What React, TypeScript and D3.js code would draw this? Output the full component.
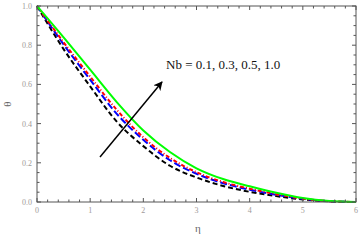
import { scaleLinear, line, curveMonotoneX, range } from 'd3'

const width = 361
const height = 241
const margin = { left: 37, right: 5, top: 6, bottom: 39 }

// eta grid and theta profiles for each Nb
const eta = [0, 0.5, 1, 1.5, 2, 2.5, 3, 3.5, 4, 4.5, 5, 5.5, 6]
const thetaNb01 = [1, 0.78, 0.59, 0.41, 0.285, 0.185, 0.125, 0.082, 0.052, 0.03, 0.013, 0.003, 0]
const thetaNb03 = [1, 0.804, 0.624, 0.45, 0.317, 0.213, 0.144, 0.096, 0.063, 0.037, 0.016, 0.004, 0]
const thetaNb05 = [1, 0.815, 0.64, 0.47, 0.33, 0.225, 0.152, 0.102, 0.068, 0.04, 0.017, 0.004, 0]
const thetaNb10 = [1, 0.84, 0.675, 0.51, 0.365, 0.255, 0.172, 0.117, 0.08, 0.047, 0.02, 0.005, 0]

const xTicks = [0, 1, 2, 3, 4, 5, 6]
const yTicks = [0, 0.2, 0.4, 0.6, 0.8, 1.0]

const series = [
  { values: thetaNb01, color: '#000000', dash: '5,3' },
  { values: thetaNb03, color: '#0000ff', dash: '7,3' },
  { values: thetaNb05, color: '#ff0000', dash: '4,2,1,2' },
  { values: thetaNb10, color: '#00ff00', dash: null },
]

const x = scaleLinear().domain([0, 6]).range([margin.left, width - margin.right])
const y = scaleLinear().domain([0, 1]).range([height - margin.bottom, margin.top])

const curve = line<number>()
  .x((d, i) => x(eta[i]))
  .y(d => y(d))
  .curve(curveMonotoneX)

const frame = '#555'
const labelColor = '#a09a98'

const App = () => {
  const x0 = x.range()[0], x1 = x.range()[1]
  const y0 = y.range()[0], y1 = y.range()[1]
  const xMinor = range(0, 6.001, 0.2)
  const yMinor = range(0, 1.001, 0.05)
  return (
    <svg width={width} height={height} style={{ position: 'absolute', left: 0, top: 0, background: '#fff' }}>
      <defs>
        <marker id="head" viewBox="0 0 10 10" refX="9" refY="5" markerWidth="6" markerHeight="6" orient="auto">
          <path d="M0,0 L10,5 L0,10 L3,5 z" fill="#000" />
        </marker>
      </defs>
      {series.map((s, i) => (
        <path key={i} d={curve(s.values) || ''} fill="none" stroke={s.color}
          strokeWidth={2} strokeDasharray={s.dash || undefined} />
      ))}
      {/* frame */}
      <rect x={x0} y={y1} width={x1 - x0} height={y0 - y1} fill="none" stroke={frame} strokeWidth={1} />
      {xMinor.map((t, i) => {
        const major = Math.abs(t - Math.round(t)) < 1e-6
        const len = major ? 4 : 2.5
        return (
          <g key={'xt' + i}>
            <line x1={x(t)} x2={x(t)} y1={y0} y2={y0 - len} stroke={frame} />
            <line x1={x(t)} x2={x(t)} y1={y1} y2={y1 + len} stroke={frame} />
          </g>
        )
      })}
      {yMinor.map((t, i) => {
        const major = Math.abs(t * 5 - Math.round(t * 5)) < 1e-6
        const len = major ? 4 : 2.5
        return (
          <g key={'yt' + i}>
            <line x1={x0} x2={x0 + len} y1={y(t)} y2={y(t)} stroke={frame} />
            <line x1={x1} x2={x1 - len} y1={y(t)} y2={y(t)} stroke={frame} />
          </g>
        )
      })}
      {xTicks.map(t => (
        <text key={'xl' + t} x={x(t)} y={y0 + 11} textAnchor="middle" fontFamily="Liberation Serif" fontSize={8} fill={labelColor}>{t}</text>
      ))}
      {yTicks.map(t => (
        <text key={'yl' + t} x={x0 - 5} y={y(t) + 3} textAnchor="end" fontFamily="Liberation Serif" fontSize={8} fill={labelColor}>{t.toFixed(1)}</text>
      ))}
      <text x={198} y={232} textAnchor="middle" fontFamily="Liberation Serif" fontSize={11} fill="#666">η</text>
      <text transform={`translate(11,${y(0.5)}) rotate(-90)`} textAnchor="middle" fontFamily="Liberation Serif" fontSize={11} fill="#666">θ</text>
      {/* arrow and annotation */}
      <line x1={100} y1={157} x2={162} y2={82} stroke="#000" strokeWidth={1.5} markerEnd="url(#head)" />
      <text x={166} y={69} fontFamily="Liberation Serif" fontSize={13} fill="#111">Nb = 0.1, 0.3, 0.5, 1.0</text>
    </svg>
  )
}

export default App
